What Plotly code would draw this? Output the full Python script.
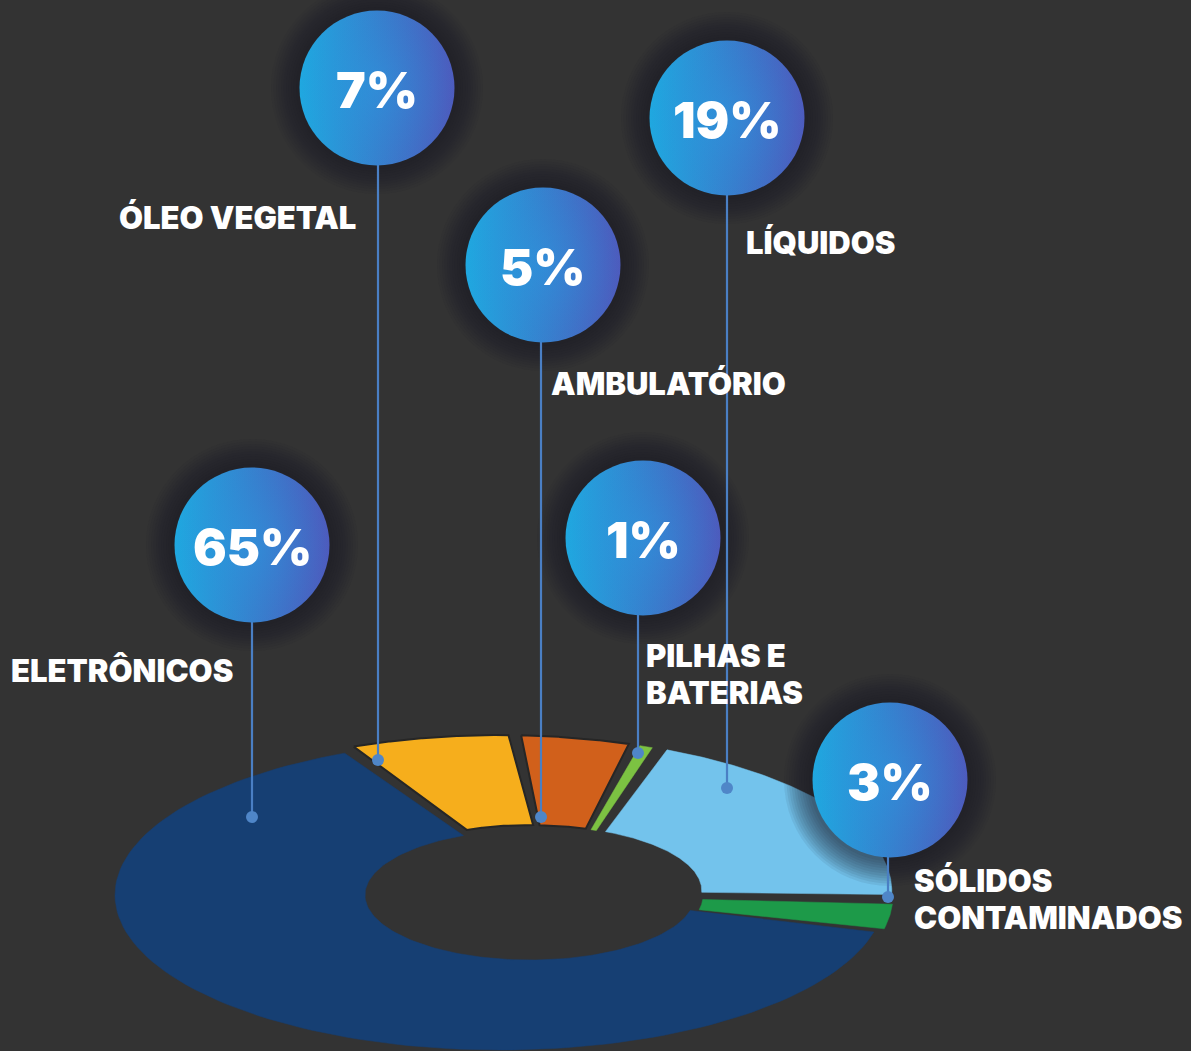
import numpy as np
import plotly.graph_objects as go

# ---------------- data ----------------
categories = ["ELETRÔNICOS", "ÓLEO VEGETAL", "AMBULATÓRIO", "PILHAS E BATERIAS", "LÍQUIDOS", "SÓLIDOS CONTAMINADOS"]
label_lines = [["ELETRÔNICOS"], ["ÓLEO VEGETAL"], ["AMBULATÓRIO"], ["PILHAS E", "BATERIAS"], ["LÍQUIDOS"], ["SÓLIDOS", "CONTAMINADOS"]]
values = [65, 7, 5, 1, 19, 3]
colors = ["#163f73", "#f6ae1c", "#d1601b", "#7cc242", "#73c3ec", "#1d9a49"]

# ---------------- layout / style ----------------
W, H = 1191, 1051
BG = "#333333"
ring_order = [1, 2, 3, 4, 5, 0]     # clockwise from START
START = 113.0                        # degrees
OUT_C, OUT_R = (500, 895), (385, 155)
IN_C, IN_R = (530, 895), (165, 65)
pulls = [0, 5, 5, 5, 8, 8]
PAD = 0.8

bubble_xy = [(252, 545), (377, 88), (543, 265), (643, 538), (727, 118), (890, 780)]
dot_xy = [(252, 817), (378, 760), (541, 817), (638, 753), (727, 788), (888, 897)]
label_xy = [(9, 670), (117, 217), (549, 383), (644, 674), (744, 242), (912, 899)]
LINE_GAP = 37
BUBBLE_D = 155
FONT = "Inter"

fig = go.Figure()

# ---------------- ring wedges ----------------
total = float(sum(values))
a = START
for idx in ring_order:
    span = values[idx] / total * 360.0
    a1, a2 = a - PAD, a - span + PAD
    a -= span
    t = np.radians(np.linspace(a1, a2, 120))
    mid = np.radians((a1 + a2) / 2)
    dx, dy = pulls[idx] * np.cos(mid), -pulls[idx] * np.sin(mid)
    ox = OUT_C[0] + OUT_R[0] * np.cos(t) + dx
    oy = OUT_C[1] - OUT_R[1] * np.sin(t) + dy
    ix = IN_C[0] + IN_R[0] * np.cos(t[::-1]) + dx
    iy = IN_C[1] - IN_R[1] * np.sin(t[::-1]) + dy
    xs = np.concatenate([ox, ix, ox[:1]])
    ys = np.concatenate([oy, iy, oy[:1]])
    fig.add_trace(go.Scatter(
        x=xs, y=ys, mode="lines", fill="toself", fillcolor=colors[idx],
        line=dict(color="#262626" if idx in (1, 2) else colors[idx], width=2 if idx in (1, 2) else 0.5),
        hoverinfo="skip", showlegend=False, name=categories[idx]))

# ---------------- halos (soft dark glow) ----------------
for s in range(212, 158, -5):
    fig.add_trace(go.Scatter(
        x=[p[0] for p in bubble_xy], y=[p[1] for p in bubble_xy], mode="markers",
        marker=dict(size=s, color="rgba(24,26,46,0.075)", line=dict(width=0)),
        hoverinfo="skip", showlegend=False))

# ---------------- connector lines & dots ----------------
for i in range(len(categories)):
    bx, by = bubble_xy[i]
    dx_, dy_ = dot_xy[i]
    fig.add_trace(go.Scatter(
        x=[dx_, dx_], y=[by + BUBBLE_D / 2 - 2, dy_], mode="lines",
        line=dict(color="#4a7fc4", width=2.2), hoverinfo="skip", showlegend=False))
fig.add_trace(go.Scatter(
    x=[p[0] for p in dot_xy], y=[p[1] for p in dot_xy], mode="markers",
    marker=dict(size=12, color="#4f86c8", line=dict(width=0)),
    hoverinfo="skip", showlegend=False))

# ---------------- bubbles ----------------
fig.add_trace(go.Scatter(
    x=[p[0] for p in bubble_xy], y=[p[1] for p in bubble_xy], mode="markers",
    marker=dict(size=BUBBLE_D, color="#1fa8e0", line=dict(width=0),
                gradient=dict(type="horizontal", color="#4d5bbd")),
    hoverinfo="skip", showlegend=False))
fig.add_trace(go.Scatter(
    x=[p[0] for p in bubble_xy], y=[p[1] for p in bubble_xy], mode="markers",
    marker=dict(size=BUBBLE_D, color="rgba(40,150,225,0)", line=dict(width=0),
                gradient=dict(type="radial", color="rgba(40,160,230,0.35)")),
    hoverinfo="skip", showlegend=False))

# ---------------- texts ----------------
annotations = []
for i in range(len(categories)):
    bx, by = bubble_xy[i]
    annotations.append(dict(
        x=bx, y=by + 2, text=f"{values[i]}%", showarrow=False, xref="x", yref="y",
        xanchor="center", yanchor="middle",
        font=dict(family=FONT, size=50, color="white", weight=900)))
    lx, ly = label_xy[i]
    n = len(label_lines[i])
    for k, line in enumerate(label_lines[i]):
        annotations.append(dict(
            x=lx, y=ly + (k - (n - 1) / 2) * LINE_GAP, text=line, showarrow=False,
            xref="x", yref="y", xanchor="left", yanchor="middle", align="left",
            font=dict(family=FONT, size=31, color="white", weight=900)))

fig.update_layout(
    width=W, height=H, margin=dict(l=0, r=0, t=0, b=0),
    paper_bgcolor=BG, plot_bgcolor=BG,
    xaxis=dict(range=[0, W], visible=False, fixedrange=True),
    yaxis=dict(range=[H, 0], visible=False, fixedrange=True),
    annotations=annotations, showlegend=False,
)

fig.write_html("out.html", config={"displayModeBar": False},
               post_script="document.body.style.margin='0';document.body.style.overflow='hidden';")
